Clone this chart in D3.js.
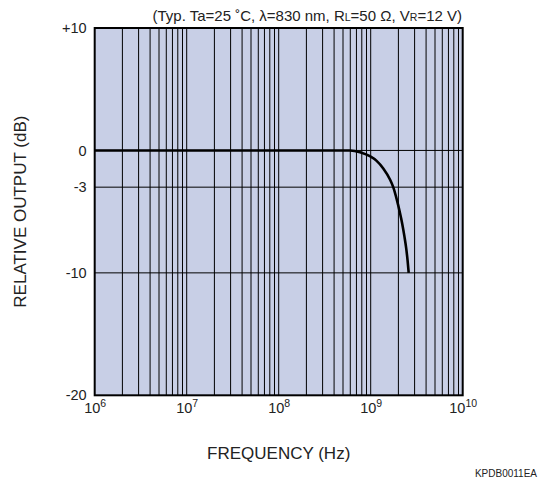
<!DOCTYPE html>
<html>
<head>
<meta charset="utf-8">
<script src="https://cdn.jsdelivr.net/npm/d3@7"></script>
<style>
  html, body { margin: 0; padding: 0; background: #fff; }
  svg { display: block; font-family: "Liberation Sans", Arial, Helvetica, sans-serif; }
</style>
</head>
<body>
<svg id="chart" width="548" height="484"></svg>
<script>
// Frequency response (Hz) and relative output (dB)
const freqHz = [1e6, 1e7, 1e8, 3e8, 5.96e8, 7.66e8, 9.8e8, 1.16e9, 1.37e9, 1.62e9, 1.758e9, 1.919e9, 2.065e9, 2.203e9, 2.323e9, 2.432e9, 2.518e9, 2.588e9];
const outputDb = [0, 0, 0, 0, 0, -0.14, -0.47, -0.85, -1.47, -2.37, -3, -4, -5, -6, -7, -8, -9, -10];

const xDecades = [1e6, 1e7, 1e8, 1e9, 1e10];
const xExponents = ["6", "7", "8", "9", "10"];
const yTicks = [10, 0, -3, -10, -20];
const yTickLabels = ["+10", "0", "-3", "-10", "-20"];
const gridDb = [0, -3, -10];

const svg = d3.select("#chart");
const margin = { left: 94.7, right: 548 - 462.7, top: 28, bottom: 484 - 395.3 };
const W = 548 - margin.left - margin.right;
const H = 484 - margin.top - margin.bottom;

const x = d3.scaleLog().domain([1e6, 1e10]).range([0, W]);
const y = d3.scaleLinear().domain([-20, 10]).range([H, 0]);

const g = svg.append("g").attr("transform", `translate(${margin.left},${margin.top})`);

// Plot background
g.append("rect").attr("width", W).attr("height", H).attr("fill", "#c8cfe6");

// Vertical log grid: 1..9 in each decade
const minorVals = [];
for (let d = 6; d < 10; d++) {
  for (let m = 2; m <= 9; m++) minorVals.push(m * Math.pow(10, d));
}
minorVals.push(1e7, 1e8, 1e9);
g.append("g").selectAll("line").data(minorVals).join("line")
  .attr("x1", d => x(d)).attr("x2", d => x(d))
  .attr("y1", 0).attr("y2", H)
  .attr("stroke", "#000").attr("stroke-width", 1);

// Horizontal grid
g.append("g").selectAll("line").data(gridDb).join("line")
  .attr("x1", 0).attr("x2", W)
  .attr("y1", d => y(d)).attr("y2", d => y(d))
  .attr("stroke", "#000").attr("stroke-width", 1);

// Response curve
const line = d3.line()
  .x((d, i) => x(freqHz[i]))
  .y((d, i) => y(outputDb[i]))
  .curve(d3.curveMonotoneX);
g.append("path").datum(outputDb)
  .attr("d", line)
  .attr("fill", "none").attr("stroke", "#000").attr("stroke-width", 2.6);

// Frame
g.append("rect").attr("width", W).attr("height", H)
  .attr("fill", "none").attr("stroke", "#000").attr("stroke-width", 2);

// Y axis labels
const yAxis = d3.axisLeft(y).tickValues(yTicks)
  .tickFormat((d, i) => yTickLabels[i]).tickSize(0).tickPadding(8);
const yg = g.append("g").call(yAxis);
yg.select(".domain").remove();
yg.selectAll("text").attr("font-size", 14.5).attr("fill", "#222")
  .attr("font-family", "Liberation Sans, Arial, sans-serif");

// X axis labels with superscript exponents
const xAxis = d3.axisBottom(x).tickValues(xDecades).tickFormat(() => "").tickSize(0);
const xg = g.append("g").attr("transform", `translate(0,${H})`).call(xAxis);
xg.select(".domain").remove();
xg.selectAll(".tick").each(function (d, i) {
  const t = d3.select(this).append("text")
    .attr("y", 18).attr("text-anchor", "middle")
    .attr("fill", "#222").attr("font-size", 14.5)
    .attr("font-family", "Liberation Sans, Arial, sans-serif");
  t.append("tspan").text("10");
  t.append("tspan").attr("dy", -6).attr("font-size", 10.5).text(xExponents[i]);
});

// Axis titles
svg.append("text").attr("x", margin.left + W / 2).attr("y", 459)
  .attr("text-anchor", "middle").attr("font-size", 17).attr("fill", "#222")
  .text("FREQUENCY (Hz)");
svg.append("text")
  .attr("transform", `translate(26,${margin.top + H / 2}) rotate(-90)`)
  .attr("text-anchor", "middle").attr("font-size", 17).attr("fill", "#222")
  .text("RELATIVE OUTPUT (dB)");

// Condition note
const note = svg.append("text").attr("x", 462).attr("y", 21)
  .attr("text-anchor", "end").attr("font-size", 15).attr("fill", "#222");
note.append("tspan").text("(Typ. Ta=25 ˚C, λ=830 nm, R");
note.append("tspan").attr("font-size", 10.5).text("L");
note.append("tspan").text("=50 Ω, V");
note.append("tspan").attr("font-size", 10.5).text("R");
note.append("tspan").text("=12 V)");

// Drawing code
svg.append("text").attr("x", 537).attr("y", 477)
  .attr("text-anchor", "end").attr("font-size", 10).attr("fill", "#222")
  .text("KPDB0011EA");
</script>
</body>
</html>
